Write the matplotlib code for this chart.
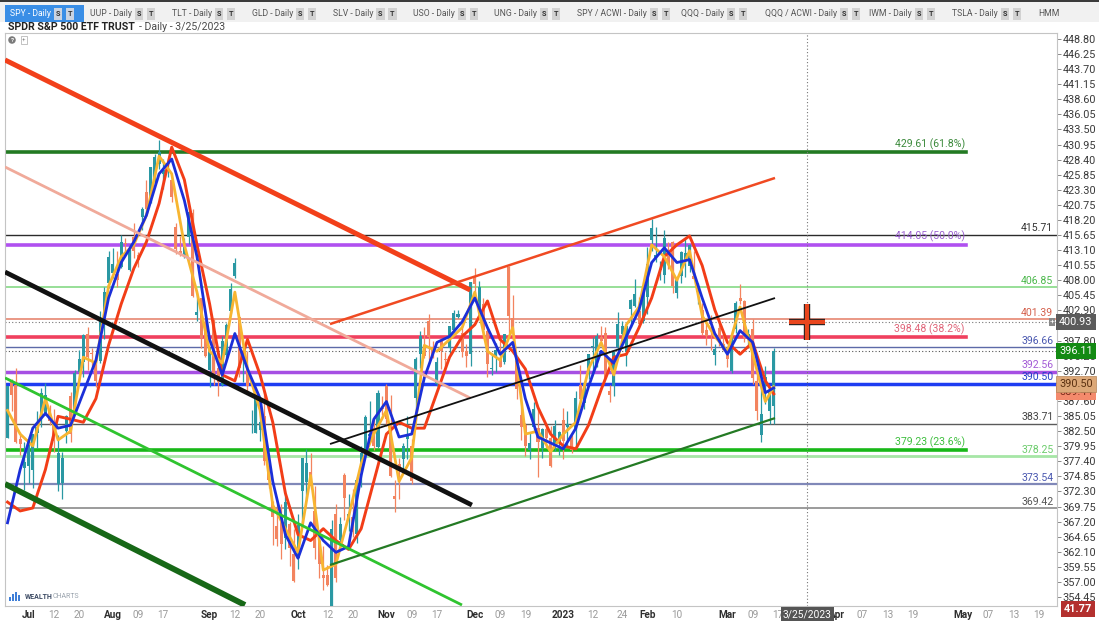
import matplotlib
matplotlib.use('Agg')
import numpy as np
import matplotlib.pyplot as plt
import matplotlib.patheffects as pe
from matplotlib.patches import Rectangle
from matplotlib.ticker import MultipleLocator, FormatStrFormatter

plt.rcParams['font.family'] = ['Roboto', 'DejaVu Sans']

# SPY daily bars, Jun 24 2022 .. Mar 16 2023 (one row per month)
opens = [381.40, 391.05, 390.23, 381.23, 376.24,
         376.56, 375.88, 382.11, 385.12, 385.56, 385.85, 383.65, 373.61, 373.77, 382.55, 388.38, 386.08, 392.47, 394.16, 398.92, 395.75, 393.84, 394.36, 401.89, 407.58,
         409.15, 409.12, 410.30, 414.37, 409.66, 415.25, 412.22, 418.78, 422.99, 422.03, 424.77, 427.73, 425.93, 426.86, 424.98, 417.05, 412.90, 412.11, 415.24, 419.39, 402.20, 404.93, 401.01,
         392.89, 400.28, 393.13, 390.37, 395.37, 402.74, 408.78, 401.83, 394.47, 392.96, 385.49, 382.26, 382.67, 385.06, 376.58, 370.58, 366.41, 367.76, 364.38, 366.77, 361.80,
         361.08, 372.40, 373.88, 375.62, 368.97, 363.96, 358.24, 358.17, 349.21, 368.55, 364.01, 375.13, 367.82, 368.03, 365.12, 375.89, 378.79, 381.62, 383.07, 379.87, 386.44,
         390.14, 383.90, 371.47, 377.00, 377.71, 381.11, 379.93, 388.05, 395.59, 396.66, 401.15, 396.78, 390.46, 397.74, 394.64, 396.63, 399.55, 401.83, 399.09, 396.05, 395.49,
         408.77, 402.25, 403.95, 399.42, 392.94, 395.14, 394.94, 394.11, 410.22, 401.61, 394.30, 385.18, 383.47, 379.23, 383.25, 383.05, 379.65, 382.79, 381.33, 379.63, 380.64,
         384.37, 383.18, 381.72, 382.61, 390.37, 387.25, 392.23, 396.67, 393.62, 398.48, 399.01, 389.36, 390.10, 396.72, 398.88, 395.95, 403.13, 403.66, 402.80, 401.13,
         405.21, 414.86, 411.59, 409.79, 408.87, 413.13, 414.41, 405.86, 408.72, 411.24, 410.35, 408.79, 406.06, 403.06, 399.52, 401.56, 395.42, 399.87, 397.23,
         395.41, 392.68, 399.71, 405.05, 404.42, 398.39, 399.74, 390.99, 381.81, 390.50, 385.89, 386.82]
highs = [390.09, 391.36, 393.16, 382.27, 380.66,
         381.70, 381.98, 385.87, 389.83, 390.64, 386.87, 386.16, 381.92, 379.05, 385.25, 389.09, 392.87, 396.26, 398.84, 400.18, 396.47, 394.06, 402.88, 406.80, 413.03,
         413.41, 413.00, 415.68, 415.09, 414.15, 417.62, 412.75, 420.43, 424.95, 427.21, 429.40, 431.73, 428.50, 428.61, 425.26, 417.62, 415.42, 415.11, 419.56, 420.13, 405.84, 405.05, 401.60,
         396.78, 401.56, 394.12, 398.59, 400.86, 407.51, 411.73, 401.94, 396.26, 395.96, 386.12, 388.54, 386.00, 389.31, 377.71, 370.62, 370.21, 370.22, 372.30, 367.11, 365.91,
         368.55, 378.00, 379.46, 378.72, 373.29, 364.21, 363.03, 359.82, 367.51, 370.26, 367.98, 375.45, 371.89, 372.67, 374.80, 380.06, 385.25, 387.58, 385.00, 389.52, 388.40,
         390.39, 388.63, 374.20, 377.87, 380.57, 385.12, 381.14, 395.04, 399.35, 400.18, 402.31, 397.78, 394.95, 397.81, 395.82, 400.07, 402.93, 402.91, 400.81, 397.30, 407.68,
         410.00, 407.86, 404.93, 399.99, 395.64, 397.36, 397.72, 398.99, 410.49, 405.50, 395.25, 386.58, 383.82, 382.23, 387.41, 386.21, 383.06, 383.15, 383.39, 384.35, 382.58,
         386.43, 385.88, 381.84, 389.25, 393.70, 390.65, 395.60, 398.49, 399.10, 400.23, 400.12, 390.36, 396.04, 402.65, 401.15, 400.70, 404.92, 408.16, 405.13, 406.53,
         413.67, 418.31, 416.97, 411.29, 416.49, 414.53, 414.57, 408.44, 412.97, 415.05, 414.06, 412.91, 407.51, 404.16, 401.13, 402.20, 397.25, 400.87, 399.28,
         396.69, 398.69, 404.45, 407.45, 404.67, 399.71, 401.48, 393.16, 390.39, 393.45, 389.49, 396.47]
lows = [381.37, 385.93, 380.53, 378.42, 372.56,
        373.80, 372.90, 379.60, 383.27, 385.24, 383.50, 378.99, 372.37, 371.04, 380.54, 380.66, 385.39, 391.03, 391.63, 392.75, 393.21, 389.95, 394.05, 398.15, 406.77,
        408.40, 406.82, 410.00, 412.44, 409.60, 411.83, 410.22, 416.50, 419.21, 421.03, 424.44, 426.87, 423.40, 425.50, 421.22, 412.40, 412.06, 411.77, 414.09, 405.25, 401.20, 396.58, 395.04,
        390.04, 390.33, 388.42, 390.20, 394.12, 402.46, 408.46, 391.71, 390.84, 388.78, 382.11, 382.18, 380.85, 376.76, 372.82, 363.29, 363.03, 360.87, 362.60, 359.70, 357.04,
        359.21, 366.57, 370.95, 372.68, 360.94, 357.67, 355.71, 356.30, 348.11, 356.96, 363.13, 367.52, 365.55, 364.61, 363.54, 373.11, 378.67, 381.35, 379.33, 379.68, 385.26,
        383.29, 374.76, 368.79, 370.94, 375.53, 377.72, 373.61, 385.64, 393.15, 394.83, 394.49, 394.79, 390.14, 393.04, 392.66, 395.15, 399.31, 401.54, 395.11, 393.30, 393.48,
        404.75, 402.14, 398.17, 391.64, 391.97, 392.50, 393.26, 393.80, 399.07, 396.31, 387.89, 381.04, 378.28, 377.85, 382.66, 374.77, 378.03, 379.65, 376.42, 379.08, 378.43,
        377.83, 380.00, 378.76, 379.41, 387.67, 386.27, 391.38, 392.42, 393.34, 397.06, 391.28, 387.39, 388.38, 395.72, 397.64, 393.56, 400.03, 403.44, 400.28, 400.77,
        402.35, 412.88, 411.09, 408.10, 407.57, 409.93, 405.81, 405.01, 407.57, 408.51, 409.47, 408.14, 404.05, 398.82, 397.02, 396.25, 393.64, 396.90, 396.15,
        393.38, 392.33, 399.03, 404.01, 397.63, 396.59, 390.53, 384.32, 380.65, 387.05, 383.71, 383.71]
closes = [390.08, 388.59, 380.65, 380.34, 377.25,
          381.24, 381.96, 383.25, 388.99, 388.67, 384.23, 380.83, 378.83, 377.91, 385.13, 381.95, 392.27, 394.77, 398.79, 395.09, 395.57, 390.89, 401.04, 406.07, 411.99,
          410.77, 408.06, 414.45, 414.17, 413.47, 412.99, 411.35, 419.99, 419.99, 427.10, 428.86, 429.70, 426.65, 427.89, 422.14, 413.35, 412.35, 413.67, 419.51, 405.31, 402.63, 398.21, 395.18,
          396.42, 392.24, 390.76, 397.78, 400.38, 406.60, 410.97, 393.10, 394.69, 390.12, 385.56, 388.55, 384.09, 377.39, 374.22, 367.95, 364.31, 363.38, 370.53, 362.79, 357.18,
          366.61, 377.97, 377.09, 373.20, 362.79, 360.02, 357.74, 356.56, 365.97, 357.63, 366.82, 371.13, 368.50, 365.41, 374.29, 378.87, 384.92, 382.02, 379.98, 389.02, 386.21,
          384.52, 374.87, 371.01, 376.35, 379.95, 382.00, 374.13, 394.69, 398.51, 395.12, 398.49, 395.45, 394.24, 396.03, 394.59, 400.20, 402.42, 402.33, 395.91, 395.23, 407.68,
          407.38, 406.91, 399.59, 393.83, 393.16, 396.24, 393.28, 398.95, 401.97, 399.40, 389.63, 383.27, 380.02, 380.54, 386.23, 380.72, 382.91, 381.40, 376.66, 383.44, 382.43,
          380.82, 383.76, 379.38, 388.08, 387.86, 390.58, 395.52, 396.96, 398.50, 397.77, 391.49, 388.64, 395.88, 400.63, 400.20, 400.35, 404.75, 405.68, 400.59, 406.48,
          410.80, 416.78, 412.35, 409.83, 415.19, 410.65, 407.09, 408.04, 412.83, 412.64, 413.98, 408.28, 407.26, 399.09, 398.54, 400.66, 396.38, 397.73, 396.26,
          394.74, 397.81, 404.19, 404.47, 398.27, 398.92, 391.56, 385.91, 385.36, 391.73, 389.28, 396.11]

# moving averages every third bar
ma_bars = list(range(0, 181, 3)) + [182]
ma_fast = [386, 382, 380, 388, 381, 382.5, 395, 394, 407, 412, 414, 419, 429, 426, 414, 406, 396, 394, 406, 393,
           386, 370, 366, 362, 375, 359, 360, 368, 377, 382, 386, 374, 378, 397, 396, 398, 400, 406, 396, 394.5,
           400, 382, 382.5, 379, 382, 384, 393, 397.5, 392, 400.5, 403.5, 414, 412, 408, 413, 402, 398.5, 396, 403.5, 395.5,
           387.5, 390]
ma_mid = [367, 376, 383, 385.5, 383, 383.5, 389, 394.5, 405, 411, 414.5, 419, 426, 428.5, 421.5, 412, 398, 392, 399, 393,
          388, 374, 365, 361, 367, 364, 362, 363, 375, 384.5, 387.5, 381.5, 382, 391.5, 397.5, 398.5, 401, 405, 400, 395.5,
          397.5, 388, 381.5, 380.5, 379.5, 383, 390, 396, 394, 398.5, 403, 411, 413.5, 411, 411.5, 405, 399, 395.5, 399.5, 397.5,
          389, 389.8]
ma_slow = [370.5, 369, 369.5, 376, 385, 384.5, 384, 388, 397, 404, 410, 414.5, 421, 430.5, 425, 414, 404, 392, 391, 398,
           392, 384, 372, 365, 364, 366, 364, 362.5, 366, 374, 382, 384, 383, 383, 389, 395, 398.5, 400.5, 404.5, 398,
           396, 393, 386.5, 382, 380, 379.5, 383.5, 389.5, 395, 395.5, 400, 405, 412, 414, 415.5, 410.5, 403, 397.5, 395.5, 397.5,
           391, 388.8]

# horizontal levels across the chart
levels = [415.71, 406.85, 401.39, 396.66, 392.56, 390.50, 383.71, 378.25, 373.54, 369.42]
level_colors = ['#2b2b2b', '#8fdc8f', '#e8907c', '#5c6aa8', '#a64fe3', '#1e3df2', '#5a5a5a', '#a6e6a6', '#8088b8', '#8a8a8a']
level_widths = [1.0, 1.3, 1.3, 1.0, 2.5, 2.5, 1.0, 2.0, 1.6, 1.2]
level_text_colors = ['#333333', '#4cb84c', '#d4604c', '#4a58b0', '#a35ad6', '#2440c8', '#444444', '#6ccc6c', '#4a58b0', '#555555']

# fibonacci retracement levels
fib_values = [429.61, 414.05, 398.48, 379.23]
fib_labels = ['429.61 (61.8%)', '414.05 (50.0%)', '398.48 (38.2%)', '379.23 (23.6%)']
fib_colors = ['#237a23', '#b050f0', '#f0405e', '#18b818']
fib_text_colors = ['#3c8a3c', '#9a5fcf', '#e0667a', '#3fbf3f']

# trend lines (bar, price) -> (bar, price)
trend_x0 = [-0.6, -0.6, -0.6, 76.6, 76.6, -0.6, -0.6, 76.6]
trend_y0 = [445.25, 427.16, 409.40, 380.32, 400.60, 391.50, 373.56, 359.86]
trend_x1 = [109.9, 109.9, 110.3, 182.3, 182.3, 107.95, 56.4, 182.3]
trend_y1 = [406.36, 388.10, 370.00, 405.00, 425.30, 353.10, 353.10, 384.70]
trend_colors = ['#f2401a', '#f0aa9a', '#111111', '#111111', '#f04a22', '#2fc42f', '#176817', '#247a24']
trend_widths = [3.6, 2.0, 3.4, 1.3, 1.8, 2.0, 4.2, 1.6]

# date axis
tick_pos = [5, 11, 17, 25, 31, 37, 48, 54, 60, 69, 76, 82, 90, 96, 102, 111, 117, 123, 132, 139, 146, 152, 159,
            171, 177, 183, 197, 203, 209, 215, 227, 233, 239, 245]
tick_text = ['Jul', '12', '20', 'Aug', '09', '17', 'Sep', '12', '20', 'Oct', '12', '20', 'Nov', '09', '17', 'Dec', '09', '19',
             '2023', '12', '24', 'Feb', '10', 'Mar', '09', '17', 'Apr', '07', '13', '19', 'May', '07', '13', '19']

cursor_bar = 190
cursor_price = 400.93
last_close = 396.11
ma_tag_1 = 390.50
ma_tag_2 = 389.44
volume_tag = '41.77'

W, H = 1099, 621
fig = plt.figure(figsize=(W / 100, H / 100), dpi=100)
fig.patch.set_facecolor('white')
ax = fig.add_axes([5 / W, 15 / H, 1052 / W, 573 / H])
ax.set_xlim(-0.6, -0.6 + 1052 / 4.21)
ax.set_ylim(352.93, 449.81)

o = np.array(opens); h = np.array(highs); l = np.array(lows); c = np.array(closes)
x = np.arange(len(c))
up = c >= o
for mask, col in [(up, '#2a98a3'), (~up, '#f3845f')]:
    ax.vlines(x[mask], l[mask], h[mask], color=col, lw=0.9, zorder=3)
    ax.bar(x[mask], np.maximum(np.abs(c - o), 0.12)[mask], bottom=np.minimum(o, c)[mask],
           width=0.72, color=col, zorder=3, linewidth=0)

# levels
for v, col, lw, tc in zip(levels, level_colors, level_widths, level_text_colors):
    ax.axhline(v, color=col, lw=lw, zorder=2)
    ax.text(0.9965, v + 0.25, f'{v:.2f}', transform=ax.get_yaxis_transform(), ha='right', va='bottom',
            fontsize=7.6, color=tc, zorder=6)
fib_end = (966 - 5) / 1052
for v, lab, col, tc in zip(fib_values, fib_labels, fib_colors, fib_text_colors):
    ax.axhline(v, xmin=0, xmax=fib_end, color=col, lw=2.6, zorder=2)
    ax.text(fib_end - 0.001, v + 0.35, lab, transform=ax.get_yaxis_transform(), ha='right', va='bottom',
            fontsize=7.6, color=tc, zorder=6)

ax.axhline(cursor_price, color='#777777', lw=0.8, ls=(0, (1, 2)), zorder=2)
ax.axhline(last_close, color='#555555', lw=0.8, ls=(0, (1, 2)), zorder=2)
ax.axvline(cursor_bar, color='#777777', lw=0.8, ls=(0, (1, 2)), zorder=2)

# moving averages
ax.plot(ma_bars, ma_slow, color='#f23d17', lw=2.1, zorder=4)
ax.plot(ma_bars, ma_fast, color='#f7b531', lw=2.0, zorder=4)
ax.plot(ma_bars, ma_mid, color='#1b2fd8', lw=2.0, zorder=4)

# trend lines
for x0, y0, x1, y1, col, lw in zip(trend_x0, trend_y0, trend_x1, trend_y1, trend_colors, trend_widths):
    ax.plot([x0, x1], [y0, y1], color=col, lw=lw, zorder=5, solid_capstyle='butt')

# cursor cross
ax.plot([cursor_bar], [cursor_price], marker='+', ms=26, mew=3.0, color='#e9461e', zorder=9,
        path_effects=[pe.Stroke(linewidth=4.6, foreground='#222222'), pe.Normal()])

# axes styling
for sp in ax.spines.values():
    sp.set_color('#c4c4c4')
    sp.set_linewidth(0.8)
ax.yaxis.tick_right()
ax.yaxis.set_major_locator(MultipleLocator(2.55))
ax.yaxis.set_major_formatter(FormatStrFormatter('%.2f'))
ax.tick_params(axis='y', length=3, width=0.6, color='#777777', pad=1, labelsize=7.8, labelcolor='#3a3a3a')
ax.set_xticks(tick_pos)
ax.set_xticklabels(tick_text)
ax.tick_params(axis='x', length=0, pad=3, labelsize=7.2)
for lab in ax.get_xticklabels():
    if lab.get_text().isdigit() and len(lab.get_text()) == 2:
        lab.set_color('#9a9a9a')
    else:
        lab.set_color('#2e2e2e')
        lab.set_fontweight('bold')

# price tags on the right axis (the second one sits mostly under the first, as on screen)
ytr = ax.get_yaxis_transform()
ax.text(1.002, ma_tag_2 - 0.3, f'{ma_tag_2:.2f}', transform=ytr, ha='left', va='center', fontsize=7.8,
        color='#7a2a1a', zorder=20, clip_on=False, bbox=dict(boxstyle='square,pad=0.28', fc='#f48a6c', ec='none'))
ax.text(1.002, ma_tag_1, f'{ma_tag_1:.2f}', transform=ytr, ha='left', va='center', fontsize=7.8,
        color='#5a3010', zorder=21, clip_on=False, bbox=dict(boxstyle='square,pad=0.28', fc='#dca878', ec='#b5865a', lw=0.5))
ax.text(1.002, last_close, f'{last_close:.2f}', transform=ytr, ha='left', va='center', fontsize=7.8,
        color='white', zorder=21, clip_on=False, bbox=dict(boxstyle='square,pad=0.28', fc='#138a13', ec='none'))
ax.text(1.002, cursor_price, f'{cursor_price:.2f}', transform=ytr, ha='left', va='center', fontsize=7.8,
        color='white', zorder=21, clip_on=False, bbox=dict(boxstyle='square,pad=0.28', fc='#5b5b5b', ec='none'))
ax.text(0.9975, cursor_price, '+', transform=ytr, ha='right', va='center', fontsize=6.0, color='white',
        zorder=21, clip_on=False, bbox=dict(boxstyle='square,pad=0.1', fc='#888888', ec='none'))
fig.text(1078 / W, 1 - 609 / H, volume_tag, ha='center', va='center', fontsize=7.8, color='white', fontweight='bold',
         bbox=dict(boxstyle='square,pad=0.3', fc='#b3302e', ec='none'))
ax.text(cursor_bar, -0.006, '3/25/2023', transform=ax.get_xaxis_transform(), ha='center', va='top',
        fontsize=7.4, color='white', zorder=21, clip_on=False,
        bbox=dict(boxstyle='square,pad=0.2', fc='#555555', ec='none'))

# tab bar
fig.patches.append(Rectangle((0, 1 - 22 / H), 1, 22 / H, transform=fig.transFigure, fc='#f1f1f1', ec='none', zorder=0))
fig.patches.append(Rectangle((0, 1 - 2 / H), 1, 2 / H, transform=fig.transFigure, fc='#3b3b3b', ec='none', zorder=1))
fig.patches.append(Rectangle((5 / W, 1 - 22 / H), 79 / W, 17 / H, transform=fig.transFigure, fc='#3a8ee6', ec='none', zorder=1))
tabs = ['SPY - Daily', 'UUP - Daily', 'TLT - Daily', 'GLD - Daily', 'SLV - Daily', 'USO - Daily', 'UNG - Daily',
        'SPY / ACWI - Daily', 'QQQ - Daily', 'QQQ / ACWI - Daily', 'IWM - Daily', 'TSLA - Daily', 'HMM']
tab_x = [10, 90, 172, 252, 333, 413, 494, 577, 681, 765, 869, 952, 1038]
renderer = fig.canvas.get_renderer()
for i, (name, tx) in enumerate(zip(tabs, tab_x)):
    t = fig.text(tx / W, 1 - 14 / H, name, fontsize=6.2, va='center', ha='left',
                 color='white' if i == 0 else '#555555')
    if name == 'HMM':
        continue
    bb = t.get_window_extent(renderer)
    for j, letter in enumerate(['S', 'T']):
        fig.text((bb.x1 + 7 + j * 12) / W, 1 - 14 / H, letter, fontsize=5.2, fontweight='bold', va='center', ha='center',
                 color='#333333', bbox=dict(boxstyle='square,pad=0.25', fc='#c9d3e2' if i == 0 else '#d2d2d2', ec='none'))

title = fig.text(8 / W, 1 - 27 / H, 'SPDR S&P 500 ETF TRUST', fontsize=7.6, fontweight='bold', color='#222222', va='center')
bb = title.get_window_extent(renderer)
fig.text((bb.x1 + 4) / W, 1 - 27 / H, '- Daily - 3/25/2023', fontsize=7.6, color='#4a4a4a', va='center')

# small chart icons and watermark
fig.text(12 / W, 1 - 40 / H, '?', fontsize=4.5, color='white', ha='center', va='center', fontweight='bold',
         bbox=dict(boxstyle='circle,pad=0.2', fc='#7a7a7a', ec='none'))
fig.text(24 / W, 1 - 40 / H, '+', fontsize=4.5, color='#888888', ha='center', va='center',
         bbox=dict(boxstyle='square,pad=0.2', fc='white', ec='#aaaaaa', lw=0.5))
for k, hh in enumerate([4, 7, 9, 6]):
    fig.patches.append(Rectangle(((9 + k * 3) / W, 1 - 601 / H), 2 / W, hh / H, transform=fig.transFigure,
                                 fc='#3f7fd8', ec='none', zorder=5))
wt = fig.text(25 / W, 1 - 597 / H, 'WEALTH', fontsize=5.0, fontweight='bold', color='#3c4a63', va='center')
bb = wt.get_window_extent(renderer)
fig.text(bb.x1 / W, 1 - 597 / H, 'CHARTS', fontsize=5.0, color='#9aa3ad', va='center')

fig.savefig('out.png', dpi=100, facecolor='white')
